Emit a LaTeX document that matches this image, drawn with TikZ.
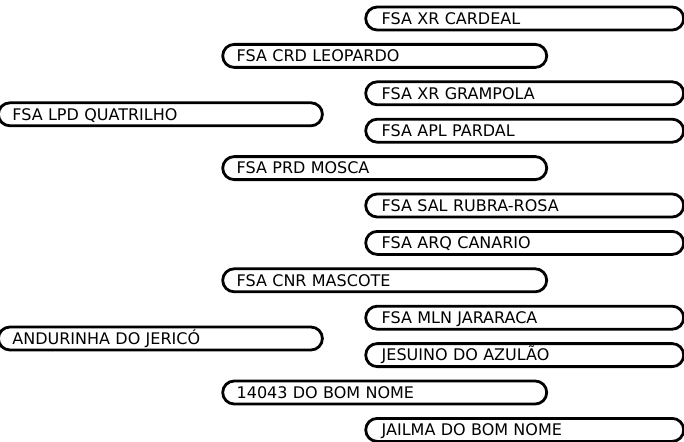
\documentclass[tikz,border=0pt]{standalone}
\usepackage{fontspec}
\setmainfont{DejaVu Sans}
\usepackage{tikz}

\tikzset{
  pedbox/.style={draw, line width=2.8pt, rounded corners=11.5pt, anchor=west,
    minimum height=23pt, inner xsep=14pt, inner ysep=0pt,
    text height=11.5pt, text depth=0pt, text width=296pt, align=left,
    font=\fontsize{16}{19}\selectfont},
  outerbox/.style={pedbox, inner xsep=16pt, text width=286pt}
}

\begin{document}
\begin{tikzpicture}[x=1pt, y=-1pt]
\useasboundingbox (0,0) rectangle (684,441);
\clip (0,0) rectangle (684,441);

% first column
\node[pedbox] (quatrilho) at (-3,114.3) {FSA LPD QUATRILHO};
\node[pedbox] (andurinha) at (-3,338.5) {ANDURINHA DO JERICÓ};

% second column
\node[pedbox] (leopardo) at (221.3,55.9) {FSA CRD LEOPARDO};
\node[pedbox] (mosca) at (221.3,168.1) {FSA PRD MOSCA};
\node[pedbox] (mascote) at (221.3,280.3) {FSA CNR MASCOTE};
\node[pedbox] (bomnome) at (221.3,392.5) {14043 DO BOM NOME};

% third column
\node[outerbox] (cardeal) at (364.3,18.5) {FSA XR CARDEAL};
\node[outerbox] (grampola) at (364.3,93.3) {FSA XR GRAMPOLA};
\node[outerbox] (pardal) at (364.3,130.7) {FSA APL PARDAL};
\node[outerbox] (rubrarosa) at (364.3,205.5) {FSA SAL RUBRA-ROSA};
\node[outerbox] (canario) at (364.3,242.9) {FSA ARQ CANARIO};
\node[outerbox] (jararaca) at (364.3,317.7) {FSA MLN JARARACA};
\node[outerbox] (jesuino) at (364.3,355.1) {JESUINO DO AZULÃO};
\node[outerbox] (jailma) at (364.3,429.9) {JAILMA DO BOM NOME};
\end{tikzpicture}
\end{document}
